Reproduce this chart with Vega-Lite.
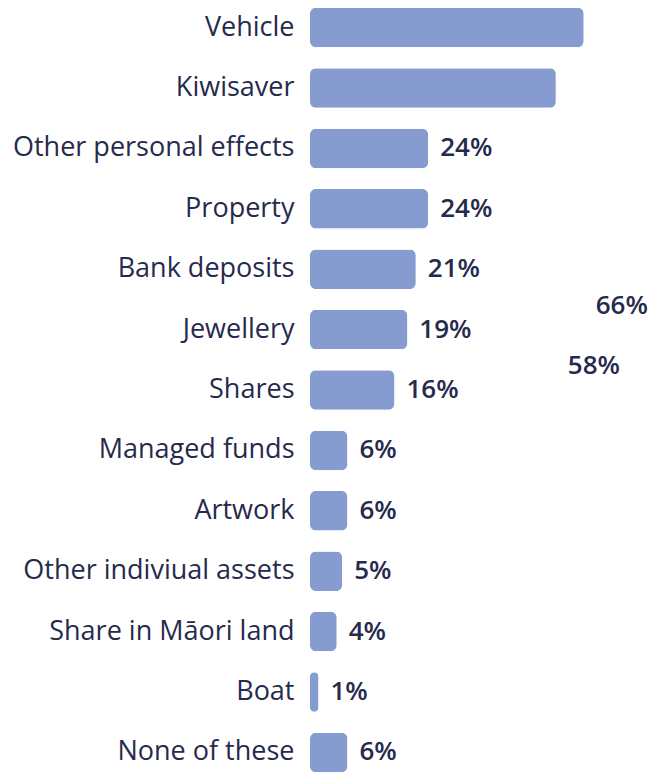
{
  "$schema": "https://vega.github.io/schema/vega-lite/v6.json",
  "autosize": "none",
  "padding": {"left": 310, "top": 0, "right": 0, "bottom": 0},
  "width": 354,
  "height": 780,
  "background": "white",
  "config": {"view": {"stroke": null}, "font": "Open Sans"},
  "data": {
    "values": [
      {"asset": "Vehicle", "pct": 0.66},
      {"asset": "Kiwisaver", "pct": 0.58},
      {"asset": "Other personal effects", "pct": 0.24},
      {"asset": "Property", "pct": 0.24},
      {"asset": "Bank deposits", "pct": 0.21},
      {"asset": "Jewellery", "pct": 0.19},
      {"asset": "Shares", "pct": 0.16},
      {"asset": "Managed funds", "pct": 0.06},
      {"asset": "Artwork", "pct": 0.06},
      {"asset": "Other indiviual assets", "pct": 0.05},
      {"asset": "Share in Māori land", "pct": 0.04},
      {"asset": "Boat", "pct": 0.01},
      {"asset": "None of these", "pct": 0.06}
    ]
  },
  "encoding": {
    "y": {
      "field": "asset",
      "type": "nominal",
      "sort": null,
      "scale": {"paddingInner": 0.346, "paddingOuter": 0.13},
      "axis": {
        "title": null,
        "domain": false,
        "ticks": false,
        "labelPadding": 16,
        "labelFontSize": 27,
        "labelColor": "#262a4d",
        "labelLimit": 400,
        "labelFont": "Open Sans"
      }
    },
    "x": {
      "field": "pct",
      "type": "quantitative",
      "scale": {"type": "pow", "exponent": 0.83, "domain": [0, 0.9], "nice": false, "zero": true},
      "axis": null
    }
  },
  "layer": [
    {"mark": {"type": "bar", "color": "#869bcf", "cornerRadius": 6}},
    {
      "transform": [{"filter": "datum.pct < 0.5"}],
      "mark": {"type": "text", "align": "left", "baseline": "middle", "dx": 12, "fontSize": 26, "fontWeight": 600, "color": "#262a4d", "font": "Open Sans"},
      "encoding": {"text": {"field": "pct", "type": "quantitative", "format": ".0%"}}
    },
    {
      "transform": [{"filter": "datum.pct >= 0.5"}],
      "mark": {"type": "text", "align": "left", "baseline": "middle", "dx": 12, "dy": 278, "fontSize": 26, "fontWeight": 600, "color": "#262a4d", "font": "Open Sans"},
      "encoding": {"text": {"field": "pct", "type": "quantitative", "format": ".0%"}}
    }
  ]
}
